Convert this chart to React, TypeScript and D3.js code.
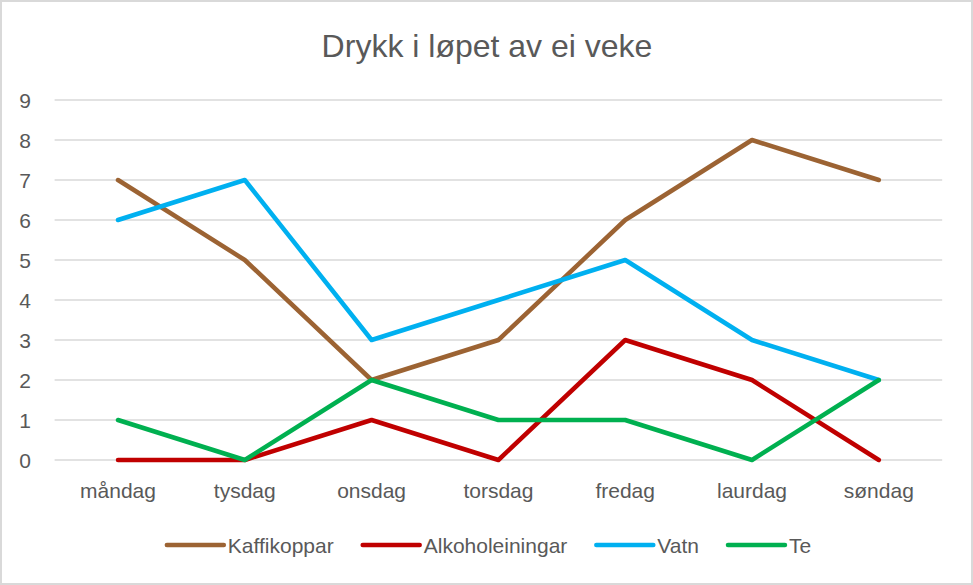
import React, { useEffect, useRef } from "react";
import * as d3 from "d3";

const categories = ["måndag", "tysdag", "onsdag", "torsdag", "fredag", "laurdag", "søndag"];
const seriesNames = ["Kaffikoppar", "Alkoholeiningar", "Vatn", "Te"];
const kaffikoppar = [7, 5, 2, 3, 6, 8, 7];
const alkoholeiningar = [0, 0, 1, 0, 3, 2, 0];
const vatn = [6, 7, 3, 4, 5, 3, 2];
const te = [1, 0, 2, 1, 1, 0, 2];
const yTicks = [0, 1, 2, 3, 4, 5, 6, 7, 8, 9];
const colors = ["#9C6333", "#C00000", "#00B0F0", "#00B050"];
const title = "Drykk i løpet av ei veke";

const W = 973;
const H = 585;
const FONT = "'Liberation Sans', Arial, sans-serif";

export default function App() {
  const ref = useRef<SVGSVGElement>(null);
  useEffect(() => {
    const svg = d3.select(ref.current);
    svg.selectAll("*").remove();
    const data = [kaffikoppar, alkoholeiningar, vatn, te];

    svg.append("rect").attr("x", 1).attr("y", 1).attr("width", W - 2).attr("height", H - 2)
      .attr("fill", "#fff").attr("stroke", "#d9d9d9").attr("stroke-width", 2);

    const x = d3.scaleBand().domain(categories).range([54.6, 942.2]);
    const y = d3.scaleLinear().domain([0, 9]).range([460, 100]);

    svg.append("text").attr("x", 487).attr("y", 57).attr("text-anchor", "middle")
      .attr("font-family", FONT).attr("font-size", 32).attr("fill", "#595959").text(title);

    const grid = svg.append("g");
    yTicks.forEach((t) => {
      grid.append("line").attr("x1", 54.6).attr("x2", 942.2).attr("y1", y(t)).attr("y2", y(t))
        .attr("stroke", "#d9d9d9").attr("stroke-width", 1.3);
      grid.append("text").attr("x", 31).attr("y", y(t) + 7.5).attr("text-anchor", "end")
        .attr("font-family", FONT).attr("font-size", 21).attr("fill", "#595959").text(String(t));
    });
    categories.forEach((c) => {
      grid.append("text").attr("x", x(c)! + x.bandwidth() / 2).attr("y", 498).attr("text-anchor", "middle")
        .attr("font-family", FONT).attr("font-size", 21).attr("fill", "#595959").text(c);
    });

    const line = d3.line<number>()
      .x((_, i) => x(categories[i])! + x.bandwidth() / 2)
      .y((d) => y(d));
    data.forEach((s, i) => {
      svg.append("path").attr("d", line(s)!).attr("fill", "none").attr("stroke", colors[i])
        .attr("stroke-width", 4.5).attr("stroke-linejoin", "round").attr("stroke-linecap", "round");
    });

    const lg = svg.append("g");
    const items: { g: any; w: number }[] = [];
    seriesNames.forEach((n, i) => {
      const g = lg.append("g");
      g.append("line").attr("x1", 0).attr("x2", 57).attr("y1", 0).attr("y2", 0)
        .attr("stroke", colors[i]).attr("stroke-width", 4.5).attr("stroke-linecap", "round");
      const t = g.append("text").attr("x", 61).attr("y", 7.5).attr("font-family", FONT)
        .attr("font-size", 21).attr("fill", "#595959").text(n);
      const tw = (t.node() as SVGTextElement).getComputedTextLength();
      items.push({ g, w: 61 + tw });
    });
    const gap = 29;
    const total = items.reduce((a, b) => a + b.w, 0) + gap * (items.length - 1);
    let cx = 489 - total / 2;
    items.forEach((it) => {
      it.g.attr("transform", `translate(${cx},545)`);
      cx += it.w + gap;
    });
  }, []);
  return <svg ref={ref} width={W} height={H} style={{ display: "block", position: "fixed", left: 0, top: 0 }} />;
}
